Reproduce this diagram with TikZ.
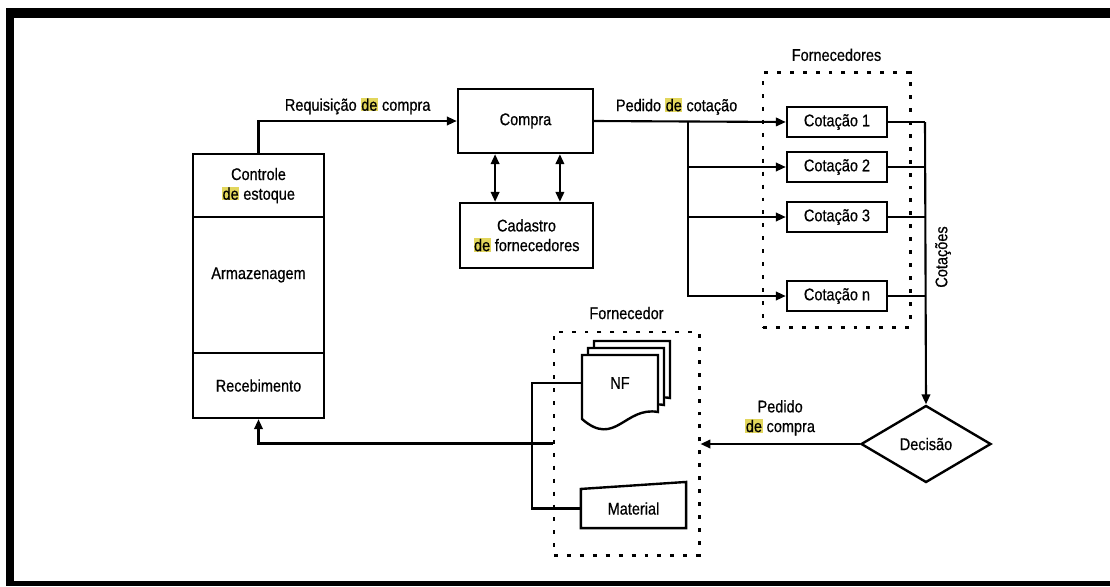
\documentclass[tikz,border=0pt]{standalone}
\usepackage{fontspec}
\setmainfont{Liberation Sans}[FakeStretch=0.86, FakeBold=0.6]
\usetikzlibrary{arrows.meta,shapes.geometric,positioning}
\definecolor{marca}{RGB}{226,214,92}
\newcommand{\dehl}{{\setlength{\fboxsep}{0.4pt}\colorbox{marca}{de}}}

\begin{document}
\begin{tikzpicture}[x=0.025cm, y=-0.025cm, line width=1.5pt,
    >={Triangle[length=7pt,width=6pt]},
    caixa/.style={draw, rectangle, line width=1.7pt, minimum height=0.75cm,
      inner sep=1pt, align=center, font=\fontsize{12}{14}\selectfont},
    rotulo/.style={inner sep=1pt, align=center, font=\fontsize{12}{14}\selectfont},
    pontilhado/.style={draw, line width=2.1pt, dash pattern=on 2.8pt off 6.4pt}]
    \useasboundingbox (0,0) rectangle (1110,586);

    % 1. MOLDURA (faixas pretas)
    \fill[black] (6,8) rectangle (1110,18);
    \fill[black] (6,8) rectangle (14,586);
    \fill[black] (6,581) rectangle (1110,586);

    % 2. BLOCO DA ESQUERDA
    \node[caixa, minimum width=3.275cm, minimum height=1.575cm] (controle) at (258.5,185.5) {Controle\\\dehl{} estoque};
    \node[caixa, minimum width=3.275cm, minimum height=3.4cm, text height=0.3cm, text depth=0.6cm] (armazenagem) at (258.5,285) {Armazenagem};
    \node[caixa, minimum width=3.275cm, minimum height=1.625cm] (recebimento) at (258.5,385.5) {Recebimento};

    % 3. COMPRA E CADASTRO
    \node[caixa, minimum width=3.375cm, minimum height=1.6cm] (compra) at (525.5,121) {Compra};
    \node[caixa, minimum width=3.325cm, minimum height=1.625cm] (cadastro) at (526.5,235.5) {Cadastro\\\dehl{} fornecedores};

    \draw[->] (controle.north) |- (compra.west) node[rotulo, pos=0.75, above=3pt] {Requisição \dehl{} compra};
    \draw[<->] ([xshift=-0.76cm]compra.south) -- ([xshift=-0.76cm]compra.south |- cadastro.north);
    \draw[<->] ([xshift=0.86cm]compra.south) -- ([xshift=0.86cm]compra.south |- cadastro.north);

    % 4. FORNECEDORES (cotacoes)
    \node[pontilhado, minimum width=3.675cm, minimum height=6.35cm] (fornecedores) at (836.5,200) {};
    \node[rotulo, above=0.2cm of fornecedores] (tfornecedores) {Fornecedores};
    \foreach \nome/\y/\txt in {c1/122/1, c2/167/2, c3/217/3, cn/296/n} {
        \node[caixa, minimum width=2.5cm, fill=white] (\nome) at (837,\y) {Cotação \txt};
    }

    % 5. PEDIDO DE COTACAO
    \draw[->] (compra.east) -- (c1.west) node[rotulo, pos=0.43, above=3pt] {Pedido \dehl{} cotação};
    \coordinate (ramo) at (688,122);
    \foreach \nome in {c2,c3,cn} {
        \draw[->] (ramo) |- (\nome.west);
    }

    % 6. DECISAO
    \node[draw, diamond, aspect=1.7, line width=1.7pt, inner sep=0pt, minimum width=3.25cm,
          minimum height=1.925cm, font=\fontsize{12}{14}\selectfont] (decisao) at (926,444) {Decisão};
    \coordinate (junta) at (925,122);
    \draw (c1.east) -- (junta);
    \foreach \nome in {c2,c3,cn} {
        \draw (\nome.east) -- (\nome.east -| junta);
    }
    \draw[->] (junta) -- (decisao.north);
    \node[rotulo, rotate=90] (tcotacoes) at (943,257) {Cotações};

    % 7. FORNECEDOR (NF e material)
    \node[pontilhado, minimum width=3.625cm, minimum height=5.575cm] (fornecedor) at (626.5,443.5) {};
    \node[rotulo, above=0.22cm of fornecedor] (tfornecedor) {Fornecedor};
    % folhas da nota fiscal, de tras para frente
    \foreach \d in {2,1,0} {
        \draw[line width=1.7pt, fill=white, shift={(6*\d,-7*\d)}]
            (582,355) -- (658,355) -- (658,412) .. controls (625,406) and (615,448) .. (582,419) -- cycle;
    }
    \node[rotulo, minimum width=1.9cm, minimum height=1.4cm] (nf) at (620,383) {NF};
    \node[rotulo, minimum width=2.575cm, minimum height=0.925cm] (material) at (633.5,508.5) {Material};
    \draw[line width=1.7pt] (material.north west) -- ([yshift=0.175cm]material.north east)
        -- (material.south east) -- (material.south west) -- cycle;
    \coordinate (elo) at (532,383);
    \draw (nf.west) -- (elo) |- (material.west);

    % 8. PEDIDO DE COMPRA E RECEBIMENTO
    \draw[->] (decisao.west) -- (decisao.west -| fornecedor.east) node[rotulo, midway, above=0.15cm] {Pedido\\\dehl{} compra};
    \draw[->] (fornecedor.west) -| (recebimento.south);

\end{tikzpicture}
\end{document}
